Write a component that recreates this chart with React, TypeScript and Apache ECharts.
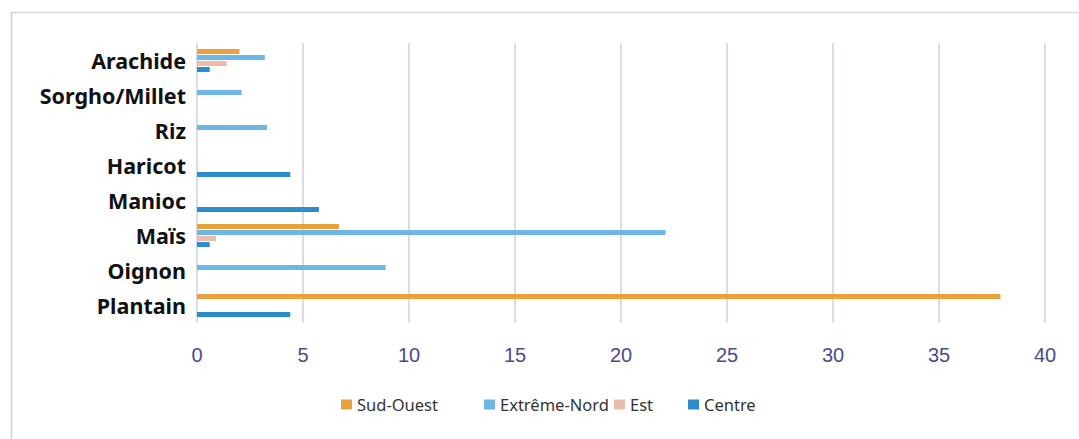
import React, { useEffect, useRef } from "react";
import * as echarts from "echarts";

const categories = ["Arachide", "Sorgho/Millet", "Riz", "Haricot", "Manioc", "Maïs", "Oignon", "Plantain"];
const seriesNames = ["Sud-Ouest", "Extrême-Nord", "Est", "Centre"];
const sudOuest = [2.0, null, null, null, null, 6.7, null, 37.9];
const extremeNord = [3.2, 2.1, 3.3, null, null, 22.1, 8.9, null];
const est = [1.4, null, null, null, null, 0.9, null, null];
const centre = [0.6, null, null, 4.4, 5.75, 0.6, null, 4.4];
const xTicks = { min: 0, max: 40, interval: 5 };

const colors = ["#e9a23b", "#6db6e6", "#ebbcab", "#2b8dcc"];
const legendLefts = [341, 484, 614, 688];

export default function App() {
  const ref = useRef<HTMLDivElement>(null);
  useEffect(() => {
    if (!ref.current) return;
    const chart = echarts.init(ref.current, null, { renderer: "svg" });
    const values = [sudOuest, extremeNord, est, centre];
    chart.setOption({
      animation: false,
      backgroundColor: "#ffffff",
      grid: { left: 197, right: 34, top: 43, bottom: 116, containLabel: false },
      xAxis: {
        type: "value",
        min: xTicks.min,
        max: xTicks.max,
        interval: xTicks.interval,
        axisLine: { show: false },
        axisTick: { show: false },
        splitLine: { show: true, lineStyle: { color: "#cfcfe2", width: 1.5 } },
        axisLabel: { color: "#4a4a8c", fontSize: 20, fontFamily: "Liberation Sans", margin: 22 },
      },
      yAxis: {
        type: "category",
        data: categories,
        inverse: true,
        axisLine: { show: false },
        axisTick: { show: false },
        axisLabel: { color: "#111", fontSize: 21.5, fontWeight: "bold", fontFamily: "Noto Sans", margin: 11 },
      },
      legend: seriesNames.map((n, i) => ({
        data: [n],
        left: legendLefts[i],
        top: 396,
        padding: 0,
        itemWidth: 11,
        itemHeight: 10,
        icon: "rect",
        textStyle: { color: "#333", fontSize: 16.5, fontFamily: "Noto Sans" },
      })),
      graphic: [
        { type: "line", shape: { x1: 11, y1: 12.5, x2: 1079, y2: 12.5 }, style: { stroke: "#d9d9d9", lineWidth: 1.5 } },
        { type: "line", shape: { x1: 11.5, y1: 12, x2: 11.5, y2: 439 }, style: { stroke: "#d0d0d8", lineWidth: 1.5 } },
      ],
      series: seriesNames.map((n, i) => ({
        name: n,
        type: "bar",
        data: values[i],
        barWidth: 5,
        barGap: "20%",
        itemStyle: { color: colors[i] },
      })),
    });
    return () => chart.dispose();
  }, []);
  return <div ref={ref} style={{ position: "fixed", left: 0, top: 0, width: 1079, height: 439 }} />;
}
